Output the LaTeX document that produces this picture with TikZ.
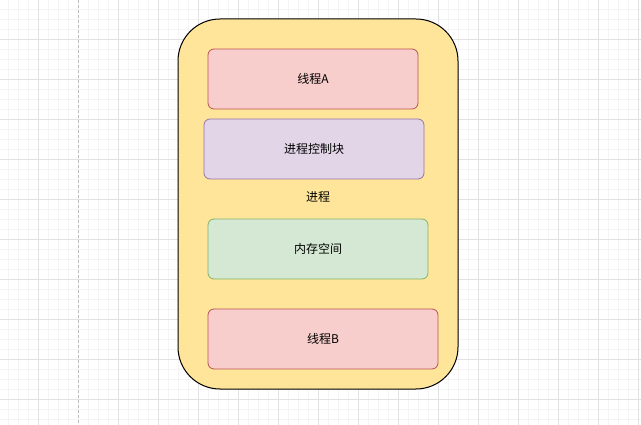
\documentclass[tikz,border=0pt]{standalone}
\usepackage{fontspec}
\setmainfont{Noto Sans CJK SC}
\definecolor{minorgrid}{HTML}{F4F4F4}
\definecolor{majorgrid}{HTML}{E2E2E2}
\definecolor{pagebreak}{HTML}{BDBDBD}
\definecolor{procfill}{HTML}{FFE599}
\definecolor{redfill}{HTML}{F8CECC}
\definecolor{redline}{HTML}{B85450}
\definecolor{purpfill}{HTML}{E1D5E7}
\definecolor{purpline}{HTML}{9673A6}
\definecolor{greenfill}{HTML}{D5E8D4}
\definecolor{greenline}{HTML}{82B366}
\tikzset{
  box/.style={rounded corners=6pt, line width=0.8pt, font=\fontsize{12pt}{14pt}\selectfont},
  redbox/.style={box, fill=redfill, draw=redline},
  purpbox/.style={box, fill=purpfill, draw=purpline},
  greenbox/.style={box, fill=greenfill, draw=greenline},
  lbl/.style={font=\fontsize{12pt}{14pt}\selectfont, inner sep=0pt}
}
\begin{document}
\begin{tikzpicture}[x=1pt,y=-1pt]
\useasboundingbox (0,0) rectangle (641,425);
\fill[white] (0,0) rectangle (641,425);
% minor grid
\foreach \x in {8,18,...,638} \draw[minorgrid, line width=0.8pt] (\x,0) -- (\x,425);
\foreach \y in {9,19,...,419} \draw[minorgrid, line width=0.8pt] (0,\y) -- (641,\y);
% major grid
\foreach \x in {38,118,158,...,638} \draw[majorgrid, line width=0.8pt] (\x,0) -- (\x,425);
\foreach \y in {39,79,...,419} \draw[majorgrid, line width=0.8pt] (0,\y) -- (641,\y);
% page break line
\draw[pagebreak, dashed, dash pattern=on 3pt off 2pt, line width=0.8pt] (78,0) -- (78,425);
% process container
\node[draw=black, fill=procfill, line width=1pt, rounded corners=42pt, minimum width=280pt, minimum height=370pt, inner sep=0pt] (proc) at (318,204) {};
\node[lbl] (proclabel) at (318,197) {进程};
\node[redbox, minimum width=210pt, minimum height=60pt] (ta) at (313,79) {线程A};
\node[purpbox, minimum width=220pt, minimum height=60pt] (pcb) at (314,149) {进程控制块};
\node[greenbox, minimum width=220pt, minimum height=60pt] (mem) at (318,249) {内存空间};
\node[redbox, minimum width=230pt, minimum height=60pt] (tb) at (323,339) {线程B};
\end{tikzpicture}
\end{document}
